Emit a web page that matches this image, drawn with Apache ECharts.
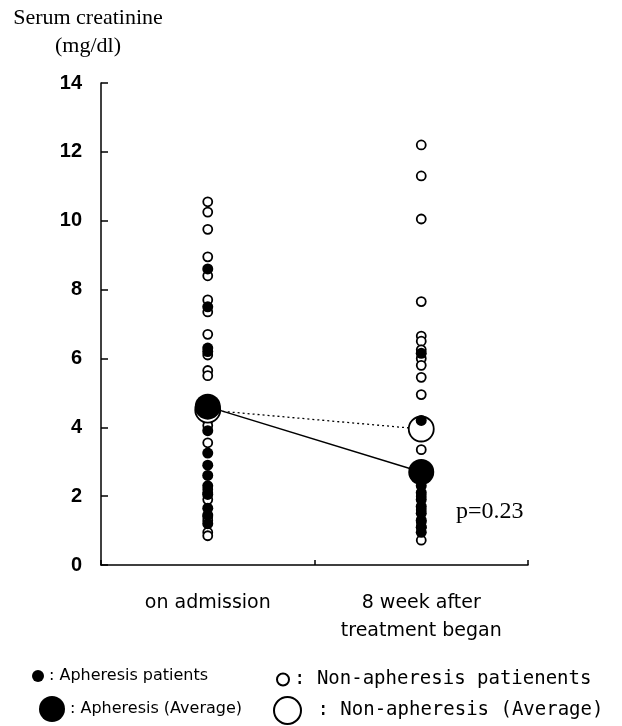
<!DOCTYPE html>
<html>
<head>
<meta charset="utf-8">
<script src="https://cdn.jsdelivr.net/npm/echarts@6/dist/echarts.min.js"></script>
<style>
  html, body { margin: 0; padding: 0; background: #fff; }
  #chart-panel { width: 622px; height: 726px; }
</style>
</head>
<body>
<div id="chart-panel"></div>
<script>
// values (mg/dl)
const categories = ["on admission", "8 week after\ntreatment began"]
const apheresisAdmission = [8.6, 7.5, 6.3, 6.2, 3.9, 3.25, 2.9, 2.6, 2.3, 2.05, 1.65, 1.45, 1.2]
const apheresisWeek8 = [6.15, 4.2, 2.5, 2.3, 2.1, 1.9, 1.7, 1.5, 1.3, 1.1, 0.95]
const nonAdmission = [10.55, 10.25, 9.75, 8.95, 8.4, 7.7, 7.35, 6.7, 6.1, 5.65, 5.5, 4.8, 4.4, 4.2, 4.05, 3.55, 2.2, 2.1, 1.9, 1.4, 1.3, 0.95, 0.85]
const nonWeek8 = [12.2, 11.3, 10.05, 7.65, 6.65, 6.5, 6.25, 6.0, 5.8, 5.45, 4.95, 3.35, 2.0, 1.6, 1.25, 1.1, 0.72]
const apheresisAverage = [4.6, 2.7]
const nonApheresisAverage = [4.5, 3.95]
const yMin = 0
const yMax = 14
const yStep = 2

const chart = echarts.init(document.getElementById("chart-panel"), null, { renderer: "canvas" })

const toPoints = (vals, idx) => vals.map(v => [categories[idx], v])
const sans = "DejaVu Sans"
const mono = "DejaVu Sans Mono"
const serif = "Liberation Serif"

const legendBase = {
  orient: "horizontal",
  selectedMode: false,
  icon: "circle",
  padding: 0,
  textStyle: { fontFamily: sans, fontSize: 16, color: "#000" }
}
const legendRight = { fontFamily: mono, fontSize: 19, color: "#000" }

const option = {
  animation: false,
  backgroundColor: "#fff",
  grid: { left: 101, right: 94, top: 83, bottom: 161 },
  legend: [
    Object.assign({}, legendBase, {
      data: ["Apheresis patients"], left: 32, top: 668, itemWidth: 12, itemHeight: 12,
      formatter: n => ": " + n
    }),
    Object.assign({}, legendBase, {
      data: ["Apheresis (Average)"], left: 39, top: 696, itemWidth: 26, itemHeight: 26,
      formatter: n => ": " + n
    }),
    Object.assign({}, legendBase, {
      data: ["Non-apheresis patienents"], left: 276, top: 670, itemWidth: 12, itemHeight: 12,
      textStyle: legendRight,
      formatter: n => ": " + n
    }),
    Object.assign({}, legendBase, {
      data: ["Non-apheresis (Average)"], left: 273, top: 696, itemWidth: 27, itemHeight: 27,
      textStyle: legendRight,
      formatter: n => " : " + n
    })
  ],
  xAxis: {
    type: "category",
    data: categories,
    boundaryGap: true,
    axisLine: { show: true, lineStyle: { color: "#000", width: 1.5 } },
    axisTick: { show: true, inside: true, length: 5, lineStyle: { color: "#000", width: 1.5 } },
    axisLabel: { margin: 24, color: "#000", fontFamily: sans, fontSize: 19, lineHeight: 28 },
    splitLine: { show: false }
  },
  yAxis: {
    type: "value",
    min: yMin,
    max: yMax,
    interval: yStep,
    axisLine: { show: true, lineStyle: { color: "#000", width: 1.5 } },
    axisTick: { show: true, inside: true, length: 7, lineStyle: { color: "#000", width: 1.5 } },
    axisLabel: { margin: 19, color: "#000", fontFamily: "Liberation Sans", fontWeight: "bold", fontSize: 20 },
    splitLine: { show: false }
  },
  graphic: [
    {
      type: "text",
      x: 88, y: 4,
      style: {
        text: "Serum creatinine\n(mg/dl)",
        textAlign: "center",
        fontFamily: serif, fontSize: 22, lineHeight: 28, fill: "#000"
      }
    },
    {
      type: "text",
      x: 456, y: 500,
      style: { text: "p=0.23", fontFamily: serif, fontSize: 24, fill: "#000" }
    }
  ],
  series: [
    {
      name: "Non-apheresis patienents",
      type: "scatter",
      z: 2,
      symbol: "circle",
      symbolSize: 9,
      itemStyle: { color: "#fff", borderColor: "#000", borderWidth: 1.8, opacity: 1 },
      data: toPoints(nonAdmission, 0).concat(toPoints(nonWeek8, 1))
    },
    {
      name: "Non-apheresis (Average)",
      type: "line",
      z: 3,
      symbol: "circle",
      symbolSize: 25,
      showAllSymbol: true,
      lineStyle: { color: "#000", width: 1.3, type: [2, 3] },
      itemStyle: { color: "#fff", borderColor: "#000", borderWidth: 1.8 },
      data: nonApheresisAverage
    },
    {
      name: "Apheresis patients",
      type: "scatter",
      z: 4,
      symbol: "circle",
      symbolSize: 11,
      itemStyle: { color: "#000", opacity: 1 },
      data: toPoints(apheresisAdmission, 0).concat(toPoints(apheresisWeek8, 1))
    },
    {
      name: "Apheresis (Average)",
      type: "line",
      z: 5,
      symbol: "circle",
      symbolSize: 26,
      showAllSymbol: true,
      lineStyle: { color: "#000", width: 1.5 },
      itemStyle: { color: "#000", borderWidth: 0 },
      data: apheresisAverage
    }
  ]
}

chart.setOption(option)
</script>
</body>
</html>
